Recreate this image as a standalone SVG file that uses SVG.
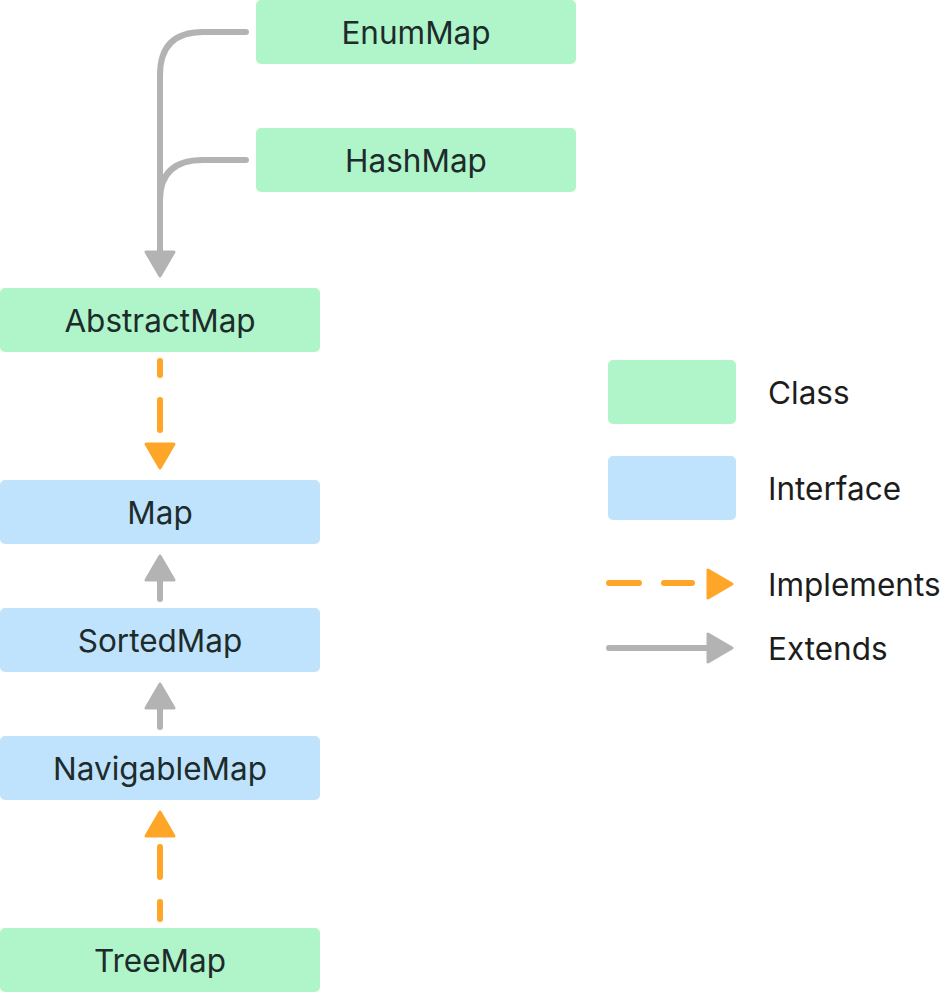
<svg xmlns="http://www.w3.org/2000/svg" width="944" height="992" viewBox="0 0 944 992">
<style>
.cls{fill:#aff5c9}
.ifc{fill:#bfe3fd}
.lbl{font-family:Inter,"Liberation Sans",sans-serif;font-size:31.5px;fill:#1e2b2b;text-anchor:middle}
.leg{font-family:Inter,"Liberation Sans",sans-serif;font-size:31.5px;fill:#1d1d1d}
.ext{fill:none;stroke:#b3b3b3;stroke-width:6;stroke-linecap:round}
.imp{fill:none;stroke:#ffa629;stroke-width:6;stroke-linecap:round;stroke-dasharray:30 25}
.ahg{fill:#b3b3b3;stroke:#b3b3b3;stroke-width:3;stroke-linejoin:round}
.aho{fill:#ffa629;stroke:#ffa629;stroke-width:3;stroke-linejoin:round}
</style>
<rect width="944" height="992" fill="#ffffff"/>
<g id="connectors">
<path class="ext" d="M246,32 H203 Q160,32 160,75 V250"/>
<path class="ext" d="M246,160 H203 Q160,160 160,200"/>
<polygon class="ahg" points="146,252 174,252 160,276"/>
<line class="imp" x1="160" y1="361" x2="160" y2="430" stroke-dashoffset="16"/>
<polygon class="aho" points="146,444 174,444 160,468"/>
<line class="ext" x1="160" y1="582" x2="160" y2="599"/>
<polygon class="ahg" points="146,580 174,580 160,556"/>
<line class="ext" x1="160" y1="708" x2="160" y2="727"/>
<polygon class="ahg" points="146,708 174,708 160,684"/>
<polygon class="aho" points="146,836 174,836 160,812"/>
<line class="imp" x1="160" y1="847" x2="160" y2="919" stroke-dasharray="36 20"/>
</g>
<g id="EnumMap"><rect class="cls" x="256" y="0" width="320" height="64" rx="5"/><text class="lbl" x="416" y="44">EnumMap</text></g>
<g id="HashMap"><rect class="cls" x="256" y="128" width="320" height="64" rx="5"/><text class="lbl" x="416" y="172">HashMap</text></g>
<g id="AbstractMap"><rect class="cls" x="0" y="288" width="320" height="64" rx="5"/><text class="lbl" x="160" y="332">AbstractMap</text></g>
<g id="Map"><rect class="ifc" x="0" y="480" width="320" height="64" rx="5"/><text class="lbl" x="160" y="524">Map</text></g>
<g id="SortedMap"><rect class="ifc" x="0" y="608" width="320" height="64" rx="5"/><text class="lbl" x="160" y="652">SortedMap</text></g>
<g id="NavigableMap"><rect class="ifc" x="0" y="736" width="320" height="64" rx="5"/><text class="lbl" x="160" y="780">NavigableMap</text></g>
<g id="TreeMap"><rect class="cls" x="0" y="928" width="320" height="64" rx="5"/><text class="lbl" x="160" y="972">TreeMap</text></g>
<g id="legend">
<rect class="cls" x="608" y="360" width="128" height="64" rx="5"/>
<text class="leg" x="768" y="404">Class</text>
<rect class="ifc" x="608" y="456" width="128" height="64" rx="5"/>
<text class="leg" x="768" y="500">Interface</text>
<line class="imp" x1="609" y1="583" x2="692" y2="583" stroke-dasharray="21 23"/>
<polygon class="aho" points="708,570 708,598 732,584"/>
<text class="leg" x="768" y="596">Implements</text>
<line class="ext" x1="609" y1="648" x2="706" y2="648"/>
<polygon class="ahg" points="708,634 708,662 732,648"/>
<text class="leg" x="768" y="660">Extends</text>
</g>
</svg>
